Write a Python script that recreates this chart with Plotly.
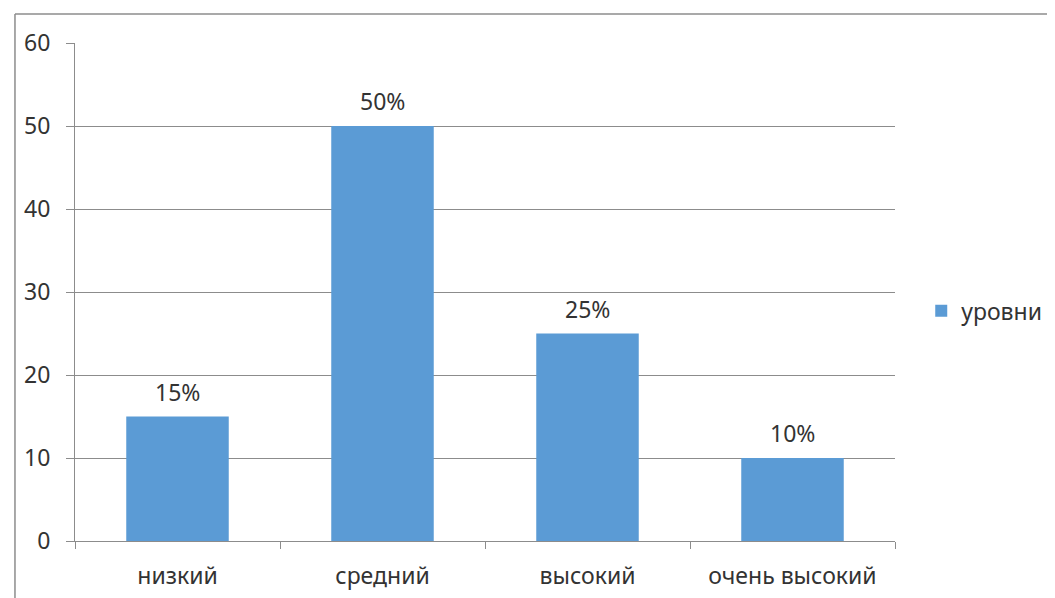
import plotly.graph_objects as go

categories = ["низкий", "средний", "высокий", "очень высокий"]
values = [15, 50, 25, 10]
labels = ["15%", "50%", "25%", "10%"]
series_name = "уровни"
y_ticks = [0, 10, 20, 30, 40, 50, 60]

FONT = "Noto Sans"
TXT = "#333333"
GRID = "#8c8c8c"
FS = 23

fig = go.Figure()
fig.add_trace(go.Bar(
    x=categories, y=values, name=series_name,
    marker=dict(color="#5B9BD5", line=dict(width=0)),
    width=0.5, showlegend=True,
))

for c, v, t in zip(categories, values, labels):
    fig.add_annotation(x=c, y=v, text=t, showarrow=False, yshift=25,
                       font=dict(family=FONT, size=FS, color=TXT))

fig.update_layout(
    width=1047, height=590,
    margin=dict(l=67, r=160, t=35, b=57, autoexpand=False),
    paper_bgcolor="white", plot_bgcolor="white",
    font=dict(family=FONT, size=FS, color=TXT),
    legend=dict(x=1.032, y=0.462, xanchor="left", yanchor="middle",
                font=dict(family=FONT, size=FS, color=TXT),
                itemwidth=30, bgcolor="rgba(0,0,0,0)"),
    xaxis=dict(
        showline=True, linecolor=GRID, linewidth=1,
        ticks="outside", tickson="boundaries", ticklen=7, tickcolor=GRID,
        showgrid=False, ticklabelstandoff=14, automargin=False,
    ),
    yaxis=dict(
        range=[0, 60], tickvals=y_ticks, showline=True, linecolor=GRID, linewidth=1,
        ticks="outside", ticklen=8, tickcolor=GRID,
        showgrid=True, gridcolor=GRID, gridwidth=1, zeroline=False,
        ticklabelstandoff=11, automargin=False,
    ),
    shapes=[
        dict(type="line", xref="paper", yref="paper", x0=-0.0732, x1=1.3, y0=1.0582, y1=1.0582,
             line=dict(color="#8c8c8c", width=1.5)),
        dict(type="line", xref="paper", yref="paper", x0=-0.0732, x1=-0.0732, y0=-0.2, y1=1.0582,
             line=dict(color="#8c8c8c", width=1.5)),
    ],
)

fig.write_html("out.html")
